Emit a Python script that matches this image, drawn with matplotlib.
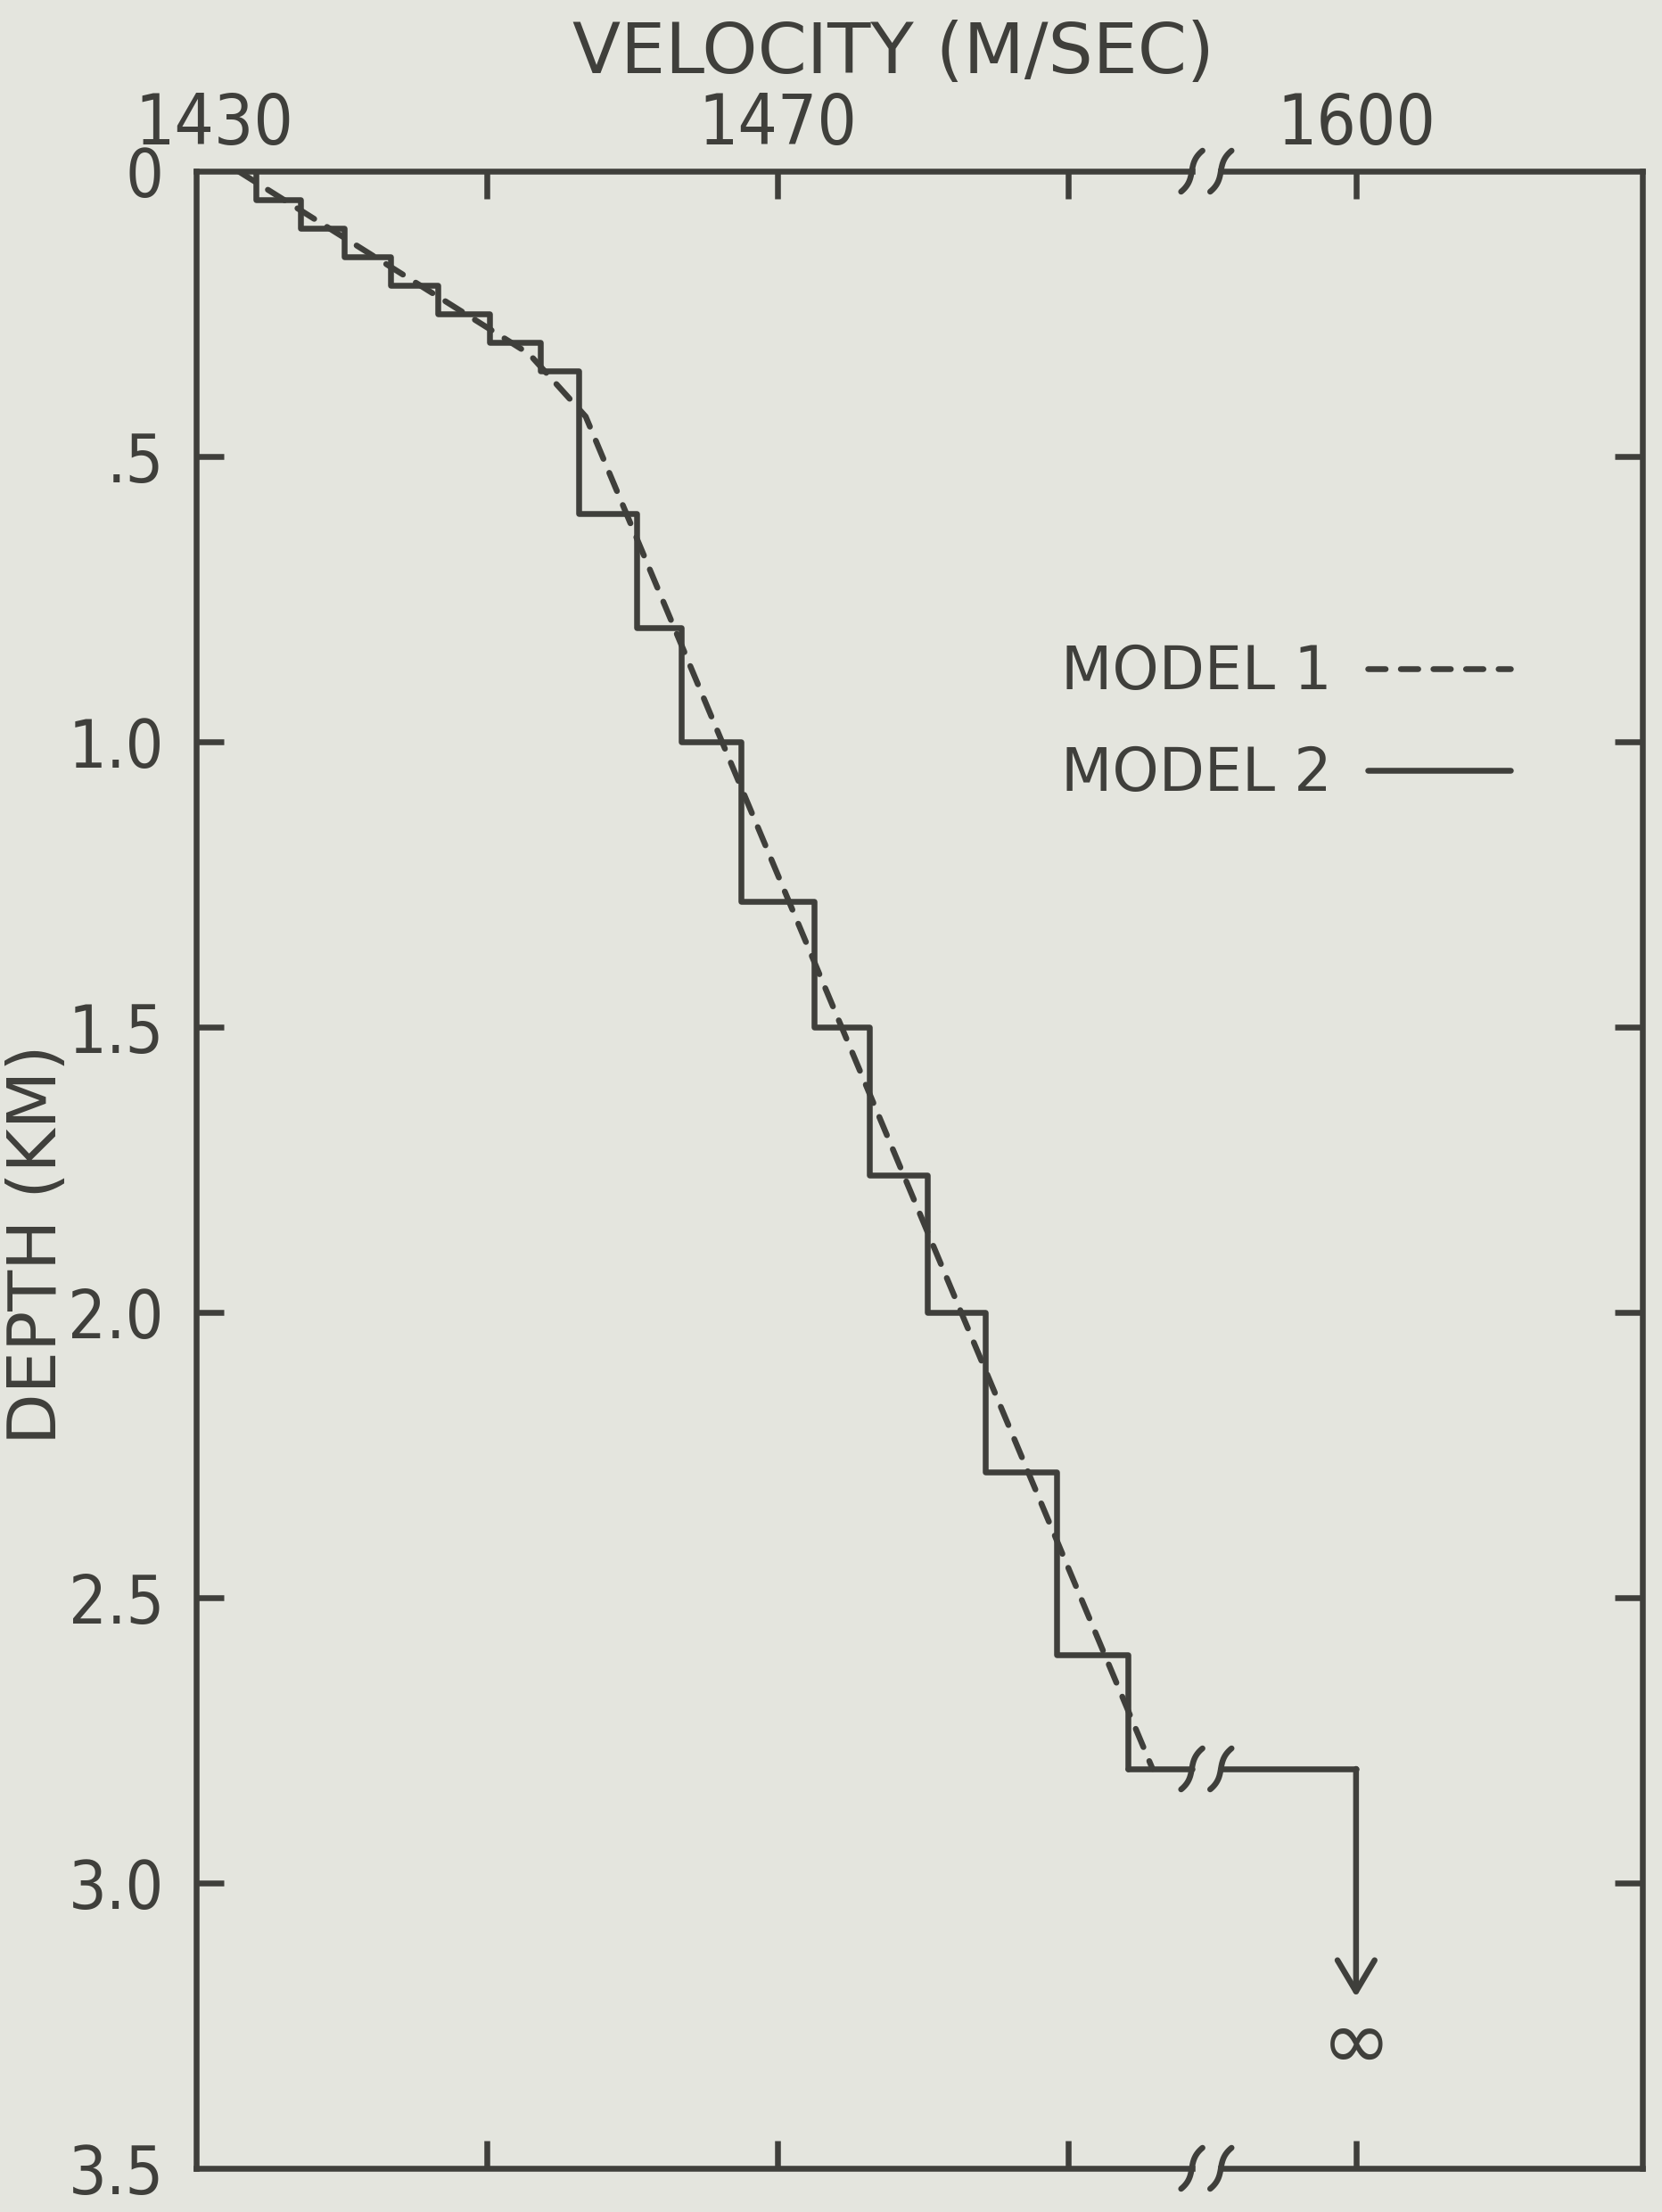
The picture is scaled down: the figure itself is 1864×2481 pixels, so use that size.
import numpy as np
import matplotlib
matplotlib.use("Agg")
import matplotlib.pyplot as plt
import matplotlib.transforms as mtransforms
from matplotlib.lines import Line2D

# ---------------- data ----------------
# Model 1: piecewise-linear gradient (depth km, velocity m/s)
model1_depth = [0.0, 0.32, 0.43, 2.80]
model1_vel = [1432.9, 1452.9, 1456.8, 1495.8]

# Model 2: constant-velocity layers (edges in km, velocities in m/s)
model2_edges = [0.0, 0.05, 0.10, 0.15, 0.20, 0.25, 0.30, 0.35, 0.60, 0.80,
                1.00, 1.28, 1.50, 1.76, 2.00, 2.28, 2.60, 2.80]
model2_vel = [1434.1, 1437.2, 1440.2, 1443.4, 1446.6, 1450.2, 1453.7, 1456.3,
              1460.3, 1463.4, 1467.5, 1472.5, 1476.3, 1480.3, 1484.3, 1489.2,
              1494.1]
# half-space below the last layer
halfspace_vel = 1600.0
halfspace_top = 2.80
halfspace_arrow_to = 3.20

# axis ticks / labels
xtick_vals = [1430, 1450, 1470, 1490, 1600]
xtick_labels = ["1430", "", "1470", "", "1600"]
ytick_vals = [0, 0.5, 1.0, 1.5, 2.0, 2.5, 3.0, 3.5]
ytick_labels = ["0", ".5", "1.0", "1.5", "2.0", "2.5", "3.0", "3.5"]
legend_labels = ["MODEL 1", "MODEL 2"]

# ---------------- broken velocity axis ----------------
BRK_LO, BRK_HI = 1499.5, 1589.7          # collapsed interval
MARK_L, MARK_R = 1498.5, 1590.7          # where the break marks sit
X_MIN, X_MAX = 1430.0, 1619.7
Y_MIN, Y_MAX = 0.0, 3.5
GAP = BRK_HI - BRK_LO


def fwd(v):
    v = np.asarray(v, dtype=float)
    return np.where(v <= BRK_LO, v, np.where(v >= BRK_HI, v - GAP, BRK_LO))


def inv(u):
    u = np.asarray(u, dtype=float)
    return np.where(u <= BRK_LO, u, u + GAP)


INK = "#3f3f3b"
PAPER = "#e4e5de"
LW = 4.7
NARROW = ["Liberation Sans Narrow", "DejaVu Sans"]

plt.rcParams["font.family"] = ["DejaVu Sans"]

W, H = 1865, 2481
fig = plt.figure(figsize=(W / 100, H / 100), dpi=100)
fig.patch.set_facecolor(PAPER)
ax_left, ax_right, ax_top, ax_bot = 220, 1842, 192, 2432
ax = fig.add_axes([ax_left / W, (H - ax_bot) / H,
                   (ax_right - ax_left) / W, (ax_bot - ax_top) / H])
ax.set_facecolor(PAPER)

ax.set_xscale("function", functions=(fwd, inv))
ax.set_xlim(X_MIN, X_MAX)
ax.set_ylim(Y_MAX, Y_MIN)
ax.autoscale(False)

# ---------------- spines ----------------
for s in ["left", "right"]:
    ax.spines[s].set_linewidth(LW)
    ax.spines[s].set_color(INK)
    ax.spines[s].set_capstyle("projecting")
for s in ["top", "bottom"]:
    ax.spines[s].set_visible(False)

blend = mtransforms.blended_transform_factory(ax.transData, ax.transAxes)
for yy in (0.0, 1.0):
    ax.plot([X_MIN, MARK_L], [yy, yy], transform=blend, color=INK, lw=LW,
            clip_on=False, solid_capstyle="projecting")
    ax.plot([MARK_R, X_MAX], [yy, yy], transform=blend, color=INK, lw=LW,
            clip_on=False, solid_capstyle="projecting")

# break mark shape (inches, at dpi 100 -> px/100)
t = np.linspace(-1, 1, 40)
mark_x = (4 * t + 8 * t ** 3) / 100.0
mark_y = (23 * t) / 100.0


def break_mark(x, y, trans):
    off = mtransforms.ScaledTranslation(x, y, trans)
    ax.plot(mark_x, mark_y, transform=fig.dpi_scale_trans + off, color=INK,
            lw=LW, clip_on=False, solid_capstyle="round")


for yy in (0.0, 1.0):
    break_mark(MARK_L, yy, blend)
    break_mark(MARK_R, yy, blend)

# ---------------- ticks ----------------
ax.set_xticks(xtick_vals)
ax.set_xticklabels(xtick_labels)
ax.set_yticks(ytick_vals)
ax.set_yticklabels(ytick_labels)
ax.tick_params(axis="x", which="major", direction="in", top=True, bottom=True,
               labeltop=True, labelbottom=False, length=22, width=LW,
               color=INK, labelcolor=INK, labelsize=56, pad=10)
ax.tick_params(axis="y", which="major", direction="in", left=True, right=True,
               labelleft=True, labelright=False, length=22, width=LW,
               color=INK, labelcolor=INK, labelsize=54, pad=26)
ax.minorticks_off()
for lbl in ax.get_xticklabels() + ax.get_yticklabels():
    lbl.set_fontfamily(NARROW)
    lbl.set_fontstretch("condensed")
# hide the ticks that sit on the frame corners
for tk in ax.yaxis.get_major_ticks():
    if tk.get_loc() in (Y_MIN, Y_MAX):
        tk.tick1line.set_visible(False)
        tk.tick2line.set_visible(False)
for tk in ax.xaxis.get_major_ticks():
    if tk.get_loc() == X_MIN:
        tk.tick1line.set_visible(False)
        tk.tick2line.set_visible(False)
    if tk.label2.get_text() == "1430":
        tk.label2.set_transform(tk.label2.get_transform() +
                                mtransforms.ScaledTranslation(0.2, 0, fig.dpi_scale_trans))

# ---------------- data ----------------
ax.plot(model1_vel, model1_depth, color=INK, lw=LW, linestyle=(0, (3.4, 2.6)),
        dash_capstyle="round", zorder=3)
ax.stairs(model2_vel, model2_edges, orientation="horizontal", baseline=None,
          color=INK, lw=LW, joinstyle="round", capstyle="round", zorder=3)
ax.plot([model2_vel[-1], MARK_L], [halfspace_top, halfspace_top], color=INK,
        lw=LW, solid_capstyle="round", zorder=3)
ax.plot([MARK_R, halfspace_vel], [halfspace_top, halfspace_top], color=INK,
        lw=LW, solid_capstyle="round", solid_joinstyle="round", zorder=3)
break_mark(MARK_L, halfspace_top, ax.transData)
break_mark(MARK_R, halfspace_top, ax.transData)
ax.annotate("", xy=(halfspace_vel, halfspace_arrow_to),
            xytext=(halfspace_vel, halfspace_top),
            arrowprops=dict(arrowstyle="->,head_length=0.42,head_width=0.25",
                            color=INK, lw=LW, shrinkA=0, shrinkB=0,
                            mutation_scale=60, capstyle="round",
                            joinstyle="round"))
ax.text(halfspace_vel, halfspace_arrow_to + 0.085, "\u221e", ha="center",
        va="center", fontsize=68, color=INK)

# ---------------- legend ----------------
handles = [Line2D([], [], color=INK, lw=LW, linestyle=(0, (3.0, 2.6)),
                  dash_capstyle="round"),
           Line2D([], [], color=INK, lw=LW, solid_capstyle="round")]
leg = ax.legend(handles, legend_labels, markerfirst=False, frameon=False,
                loc="center left", bbox_to_anchor=(0.598, 0.7237),
                borderpad=0, borderaxespad=0, handlelength=2.4,
                handletextpad=0.6, labelspacing=0.72, fontsize=48,
                labelcolor=INK)

# ---------------- titles ----------------
ax.set_title("VELOCITY (M/SEC)", x=(1002 - ax_left) / (ax_right - ax_left),
             y=1 + (ax_top - 60) / (ax_bot - ax_top), va="center", pad=0,
             fontsize=57, color=INK)
ax.set_ylabel("DEPTH (KM)", fontsize=54, color=INK, va="center")
ax.yaxis.set_label_coords((43 - ax_left) / (ax_right - ax_left),
                          1 - (1396 - ax_top) / (ax_bot - ax_top))

fig.savefig("out.png", dpi=100, facecolor=PAPER)
